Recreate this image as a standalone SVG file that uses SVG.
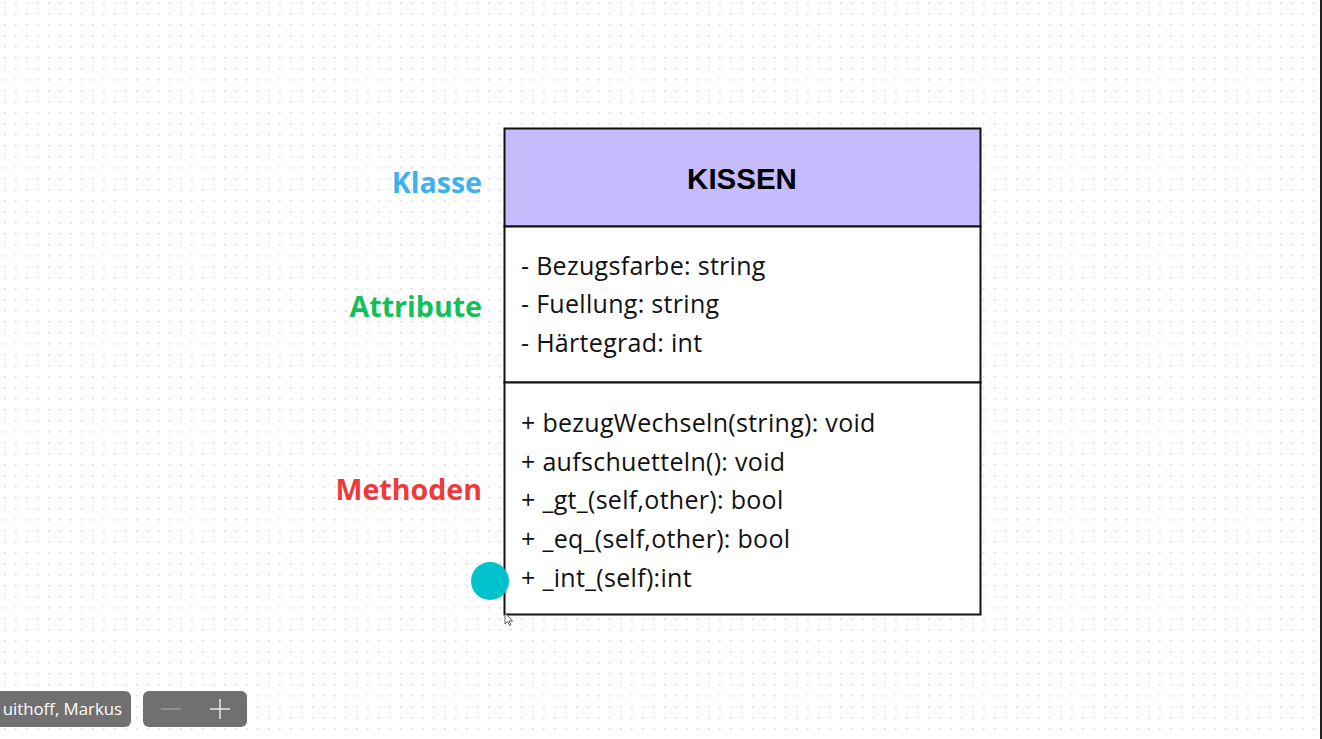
<svg xmlns="http://www.w3.org/2000/svg" width="1322" height="739" viewBox="0 0 1322 739">
<defs>
<pattern id="dots" x="4" y="2" width="11" height="11" patternUnits="userSpaceOnUse">
<rect x="0" y="0" width="1.6" height="1.6" fill="#d9d9d9"/>
</pattern>
<style>
.lbl{font-family:"Open Sans","Noto Sans",sans-serif;font-weight:700;font-size:28.6px;text-anchor:end}
.row{font-family:"Open Sans","Noto Sans",sans-serif;font-size:25px;letter-spacing:0.3px;fill:#111}
.title{font-family:"Liberation Sans",Arial,sans-serif;font-weight:700;font-size:29.5px;text-anchor:middle;fill:#000}
.ui{font-family:"Open Sans","Noto Sans",sans-serif;font-size:16.8px;fill:#fff;text-anchor:end}
</style>
</defs>
<rect width="1322" height="739" fill="#ffffff"/>
<rect width="1322" height="739" fill="url(#dots)"/>
<line x1="1321" y1="0" x2="1321" y2="739" stroke="#222" stroke-width="2"/>

<g id="labels">
<text class="lbl" x="482" y="193" fill="#3fb0ef">Klasse</text>
<text class="lbl" x="482" y="317" fill="#13bf57">Attribute</text>
<text class="lbl" x="482" y="500" fill="#ef3a3a">Methoden</text>
</g>

<g id="class-kissen">
<rect x="504.5" y="128.5" width="476" height="98" fill="#c5bbfd" stroke="#111" stroke-width="2"/>
<rect x="504.5" y="226.5" width="476" height="156" fill="#fff" stroke="#111" stroke-width="2"/>
<rect x="504.5" y="382.5" width="476" height="232" fill="#fff" stroke="#111" stroke-width="2"/>
<text class="title" x="742" y="189">KISSEN</text>
<text class="row" x="521" y="275">- Bezugsfarbe: string</text>
<text class="row" x="521" y="313">- Fuellung: string</text>
<text class="row" x="521" y="352">- Härtegrad: int</text>
<text class="row" x="521" y="432">+ bezugWechseln(string): void</text>
<text class="row" x="521" y="471">+ aufschuetteln(): void</text>
<text class="row" x="521" y="509">+ _gt_(self,other): bool</text>
<text class="row" x="521" y="548">+ _eq_(self,other): bool</text>
<text class="row" x="521" y="587">+ _int_(self):int</text>
</g>

<g id="handle">
<circle cx="490" cy="581" r="19" fill="#00c2cc"/>
</g>
<g id="cursor">
<path d="M505,613 L505,624 L507.5,621.5 L509.5,625.5 L511,624.8 L509,621 L512.5,621 Z" fill="#fff" stroke="#333" stroke-width="0.8"/>
</g>

<g id="ui">
<rect x="-10" y="691" width="141" height="36" rx="6" fill="#707070"/>
<text class="ui" x="122" y="715">uithoff, Markus</text>
<rect x="143" y="691" width="104" height="36" rx="6" fill="#707070"/>
<line x1="161" y1="709" x2="181" y2="709" stroke="#9a9a9a" stroke-width="1.5"/>
<line x1="210" y1="709" x2="230" y2="709" stroke="#e8e8e8" stroke-width="1.5"/>
<line x1="220" y1="699" x2="220" y2="719" stroke="#e8e8e8" stroke-width="1.5"/>
</g>
</svg>
